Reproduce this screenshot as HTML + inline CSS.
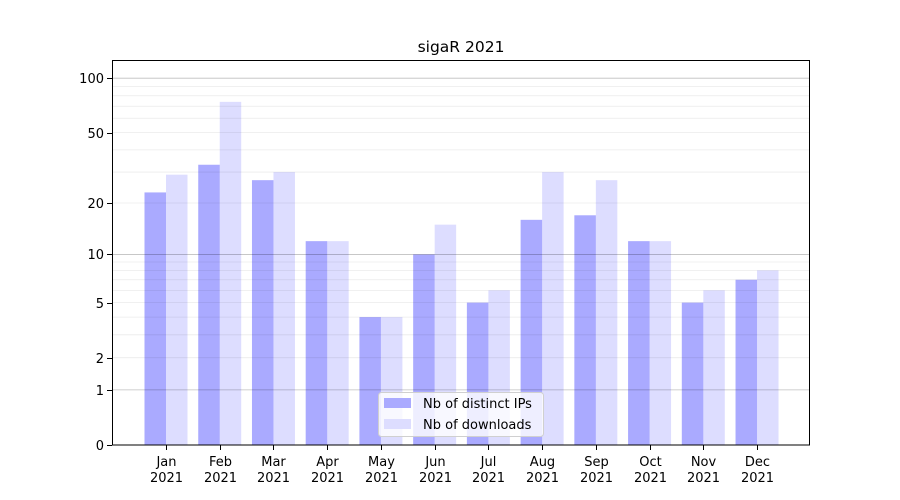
<!DOCTYPE html>
<html><head><meta charset="utf-8"><style>body{margin:0;background:#fff}svg{display:block;font-family:"DejaVu Sans","Liberation Sans",sans-serif}</style></head>
<body><svg id="s" width="900" height="500" xmlns="http://www.w3.org/2000/svg"></svg>
<script>
const s=document.getElementById('s');let h='';
const Y=v=>445-183*Math.log10(v+1);
const ips=[23,33,27,12,4,10,5,16,17,12,5,7],dl=[29,74,30,12,4,15,6,30,27,12,6,8];
const m=['Jan','Feb','Mar','Apr','May','Jun','Jul','Aug','Sep','Oct','Nov','Dec'];
for(let i=0;i<12;i++){const c=166+i*53.73;
h+=`<rect x="${c-21.5}" y="${Y(ips[i])}" width="21.5" height="${445-Y(ips[i])}" fill="#0000ff" fill-opacity="0.333"/>`;
h+=`<rect x="${c}" y="${Y(dl[i])}" width="21.5" height="${445-Y(dl[i])}" fill="#0000ff" fill-opacity="0.135"/>`;}
const minor=[2,3,4,5,6,7,8,9,20,30,40,50,60,70,80,90];
minor.forEach(v=>{h+=`<line x1="112" x2="810" y1="${Y(v)}" y2="${Y(v)}" stroke="#000" stroke-opacity="0.08" stroke-width="0.8"/>`});
[1,10,100].forEach(v=>{h+=`<line x1="112" x2="810" y1="${Y(v)}" y2="${Y(v)}" stroke="#000" stroke-opacity="0.25" stroke-width="0.8"/>`});
for(let i=0;i<12;i++){const c=Math.round(166+i*53.73)+0.5;
h+=`<line x1="${c}" x2="${c}" y1="445" y2="450" stroke="#000" stroke-width="1"/>`;
h+=`<text x="${c}" y="466" font-size="13" text-anchor="middle">${m[i]}</text><text x="${c}" y="482" font-size="13" text-anchor="middle">2021</text>`;}
[0,1,2,5,10,20,50,100].forEach(v=>{const y=Math.round(Y(v))+0.5;h+=`<line x1="107" x2="112" y1="${y}" y2="${y}" stroke="#000" stroke-width="1"/><text x="104" y="${y+4.5}" font-size="13" text-anchor="end">${v}</text>`});
h+=`<rect x="112.5" y="60.5" width="697" height="384.5" fill="none" stroke="#000" stroke-width="1"/>`;
h+=`<text x="461" y="52" font-size="15.5" text-anchor="middle">sigaR 2021</text>`;
h+=`<rect x="378.5" y="392.5" width="165" height="44" rx="3" fill="#fff" fill-opacity="0.8" stroke="#d0d0d0"/>`;
h+=`<rect x="384" y="398" width="27" height="10" fill="#aaaaff"/><text x="423" y="408" font-size="13">Nb of distinct IPs</text>`;
h+=`<rect x="384" y="419" width="27" height="10" fill="#ddddff"/><text x="423" y="429" font-size="13">Nb of downloads</text>`;
s.innerHTML=h;
</script></body></html>
